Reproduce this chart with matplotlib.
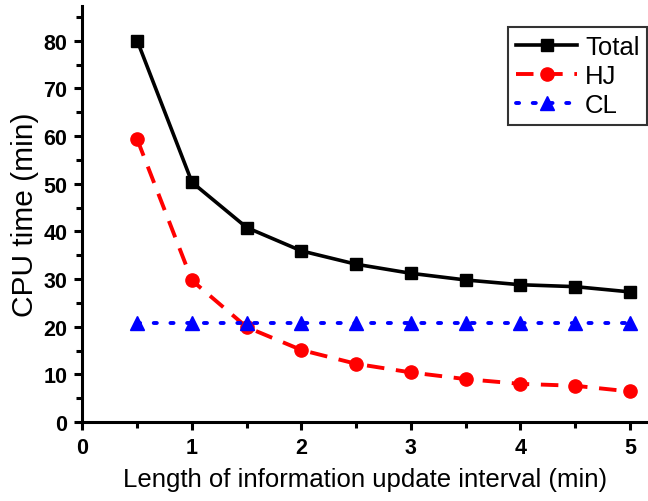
import numpy as np
import matplotlib
matplotlib.use("Agg")
import matplotlib.pyplot as plt
from matplotlib.ticker import MultipleLocator

plt.rcParams['font.family'] = ['Liberation Sans', 'DejaVu Sans']

# data
interval = [0.5, 1.0, 1.5, 2.0, 2.5, 3.0, 3.5, 4.0, 4.5, 5.0]
total = [80.0, 50.3, 40.8, 35.9, 33.1, 31.2, 29.8, 28.8, 28.4, 27.3]
hj = [59.3, 29.7, 19.9, 15.1, 12.2, 10.4, 9.0, 8.0, 7.6, 6.4]
cl = [20.8, 20.8, 20.8, 20.8, 20.8, 20.8, 20.8, 20.8, 20.8, 20.8]

fig = plt.figure(figsize=(6.48, 5.02), dpi=100)
ax = fig.add_axes([0.1273, 0.1574, 0.8727, 0.8287])

ax.plot(interval, total, color='black', lw=2.6, marker='s', ms=8.5,
        label='Total')
ax.plot(interval, hj, color='red', lw=2.8, marker='o', ms=9.5,
        linestyle=(0, (4.5, 3)), label='HJ')
ax.plot(interval, cl, color='blue', lw=2.8, marker='^', ms=10.5,
        linestyle=(0, (0.8, 3.5)), dash_capstyle='round', label='CL')

ax.set_xlim(0, 5.165)
ax.set_ylim(0, 87.3)
ax.xaxis.set_major_locator(MultipleLocator(1))
ax.xaxis.set_minor_locator(MultipleLocator(0.5))
ax.yaxis.set_major_locator(MultipleLocator(10))
ax.yaxis.set_minor_locator(MultipleLocator(5))

for side in ['top', 'right']:
    ax.spines[side].set_visible(False)
for side in ['left', 'bottom']:
    ax.spines[side].set_linewidth(2.2)

ax.tick_params(which='major', direction='out', length=6, width=2.2,
               labelsize=15.5, pad=5)
ax.tick_params(which='minor', direction='out', length=4, width=2.2)
for lbl in ax.get_xticklabels() + ax.get_yticklabels():
    lbl.set_fontweight('bold')

ax.set_xlabel('Length of information update interval (min)', fontsize=18.5,
              labelpad=6)
ax.set_ylabel('CPU time (min)', fontsize=21.5, labelpad=3)

leg = ax.legend(loc='upper left', bbox_to_anchor=(0.7524, 0.9495),
                fontsize=18.5, frameon=True, fancybox=False,
                edgecolor='black', handlelength=2.4, borderpad=0.3,
                borderaxespad=0, labelspacing=0.2, handletextpad=0.3)
leg.get_frame().set_linewidth(1.5)

fig.savefig('out.png', dpi=100)
